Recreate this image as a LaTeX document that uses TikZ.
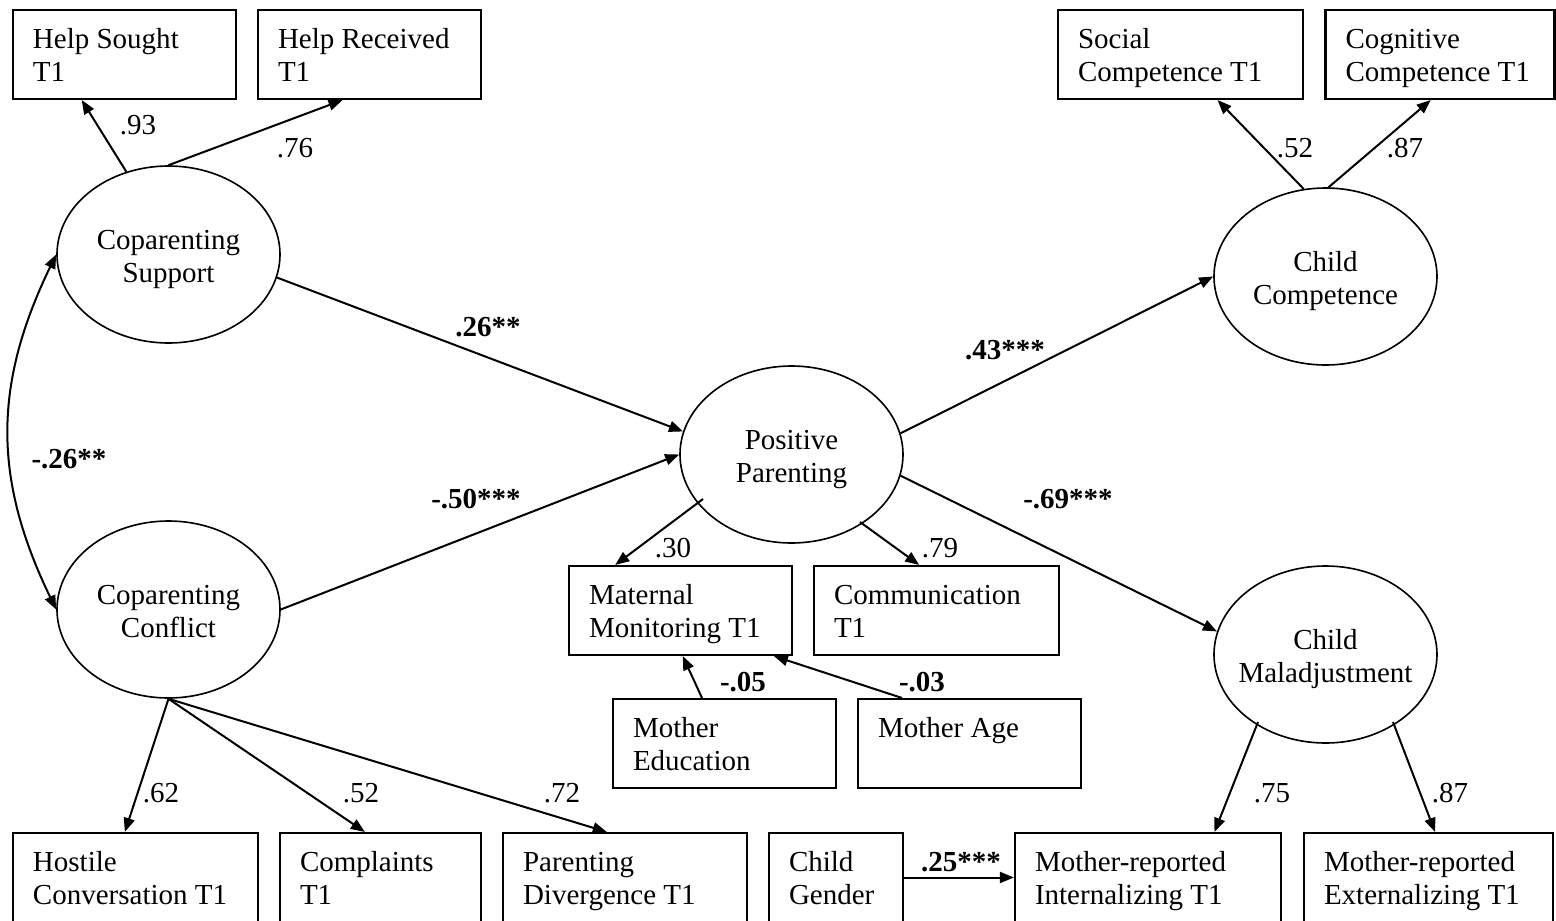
\documentclass[tikz,border=0pt]{standalone}
\usepackage{fontspec}
\setmainfont{Liberation Serif}
\usetikzlibrary{shapes.geometric,arrows.meta,calc}

\tikzset{
  struts/.style={execute at begin node=\rule{0pt}{#1},
    execute at end node=\strut},
  obs/.style={draw, rectangle, line width=0.85pt, minimum height=35.6pt,
    inner xsep=8pt, inner ysep=0pt, align=flush left, text width=#1,
    struts=12.6pt},
  lat/.style={draw, ellipse, line width=0.65pt, minimum width=89.2pt,
    minimum height=70.8pt, inner sep=0pt, align=center, text width=60pt,
    struts=13.3pt},
  arr/.style={line width=0.8pt, -{Triangle[length=5.6pt,width=4.4pt]}},
  biarr/.style={line width=0.8pt,
    {Triangle[length=5.6pt,width=4.4pt]}-{Triangle[length=5.6pt,width=4.4pt]}},
  coef/.style={inner sep=0pt},
  bcoef/.style={inner sep=0pt, font=\fontsize{11.6pt}{13.3pt}\selectfont\bfseries}
}

\begin{document}
\begin{tikzpicture}[x=0.4pt, y=-0.4pt, font=\fontsize{11.6pt}{13.3pt}\selectfont]
\path[use as bounding box, fill=white] (0,0) rectangle (1556,921);

% indicator boxes, top row
\node[obs=73.2pt] (hs) at (124.5,54.5)  {Help Sought\\T1};
\node[obs=73.2pt] (hr) at (369.5,54.5)  {Help Received\\T1};
\node[obs=82pt]   (sc) at (1180.5,54.5) {Social\\Competence T1};
\node[obs=75.6pt] (cc) at (1440,54.5)   {Cognitive\\Competence T1};

% latent variables
\node[lat] (sup)   at (168.5,254.5)  {Coparenting\\Support};
\node[lat] (con)   at (168.5,609.5)  {Coparenting\\Conflict};
\node[lat] (pp)    at (791.5,454.5)  {Positive\\Parenting};
\node[lat] (ccomp) at (1325.5,276.5) {Child\\Competence};
\node[lat] (cm)    at (1325.5,654.5) {Child\\\makebox[60pt]{Maladjustment}};

% parenting indicators and covariates
\node[obs=73.2pt] (mm)  at (680.5,610.5) {Maternal\\Monitoring T1};
\node[obs=82pt]   (com) at (936.5,610.5) {Communication\\T1};
\node[obs=73.2pt] (me)  at (724.5,743.5) {Mother\\Education};
\node[obs=73.2pt] (ma)  at (969.5,743.5) {Mother Age\\~};

% indicator boxes, bottom row
\node[obs=82pt]   (hc) at (135.5,877.5)  {Hostile\\Conversation T1};
\node[obs=64.4pt] (cp) at (380.5,877.5)  {Complaints\\T1};
\node[obs=81.6pt] (pd) at (625,877.5)    {Parenting\\Divergence T1};
\node[obs=37.6pt] (cg) at (836,877.5)    {Child\\Gender};
\node[obs=90.4pt] (mi) at (1148,877.5)   {Mother-reported\\Internalizing T1};
\node[obs=83.6pt] (mx) at (1428.5,877.5) {Mother-reported\\Externalizing T1};

% measurement paths
\draw[arr] (sup.117) -- ($(hs.south west)!.31!(hs.south east)$);
\draw[arr] (sup.north) -- ($(hr.south west)!.38!(hr.south east)$);
\draw[arr] (ccomp.104) -- ($(sc.south west)!.65!(sc.south east)$);
\draw[arr] (ccomp.88) -- ($(cc.south west)!.46!(cc.south east)$);
\draw[arr] ($(pp.center)+(-88.5,44.5)$) -- ($(mm.north west)!.21!(mm.north east)$);
\draw[arr] ($(pp.center)+(68.5,67.5)$) -- ($(com.north west)!.43!(com.north east)$);
\draw[arr] (con.south) -- ($(hc.north west)!.457!(hc.north east)$);
\draw[arr] (con.south) -- ($(cp.north west)!.423!(cp.north east)$);
\draw[arr] (con.south) -- ($(pd.north west)!.426!(pd.north east)$);
\draw[arr] ($(cm.center)+(-67.5,67.5)$) -- ($(mi.north west)!.748!(mi.north east)$);
\draw[arr] ($(cm.center)+(67.5,67.5)$) -- ($(mx.north west)!.526!(mx.north east)$);

% covariate paths
\draw[arr] ($(me.north west)!.40!(me.north east)$) -- ($(mm.south west)!.51!(mm.south east)$);
\draw[arr] ($(ma.north west)!.20!(ma.north east)$) -- ($(mm.south west)!.915!(mm.south east)$);
\draw[arr] (cg.east) -- (mi.west);

% structural paths
\draw[arr] (sup.-12) -- (pp.168);
\draw[arr] (con.east) -- (pp.west);
\draw[arr] (pp.11) -- (ccomp.west);
\draw[arr] (pp.-11) -- (cm.168);

% covariance between the coparenting factors
\draw[biarr] (sup.west) .. controls (-7,385) and (-7,479) .. (con.west);

% loadings
\node[coef] (l93) at (138,125)  {.93};
\node[coef] (l76) at (295,148)  {.76};
\node[coef] (l52a) at (1295,148) {.52};
\node[coef] (l87a) at (1405,148) {.87};
\node[coef] (l30) at (673,548)  {.30};
\node[coef] (l79) at (940,548)  {.79};
\node[coef] (l62) at (161,793)  {.62};
\node[coef] (l52b) at (361,793) {.52};
\node[coef] (l72) at (562,793)  {.72};
\node[coef] (l75) at (1272,793) {.75};
\node[coef] (l87b) at (1450,793) {.87};

% path coefficients
\node[bcoef] (b26)  at (488,327)  {.26**};
\node[bcoef] (bcov) at (69,459)   {-.26**};
\node[bcoef] (b50)  at (476,499)  {-.50***};
\node[bcoef] (b43)  at (1005,350) {.43***};
\node[bcoef] (b69)  at (1068,499) {-.69***};
\node[bcoef] (b05)  at (743,682)  {-.05};
\node[bcoef] (b03)  at (922,682)  {-.03};
\node[bcoef] (b25)  at (961,862)  {.25***};
\end{tikzpicture}
\end{document}
